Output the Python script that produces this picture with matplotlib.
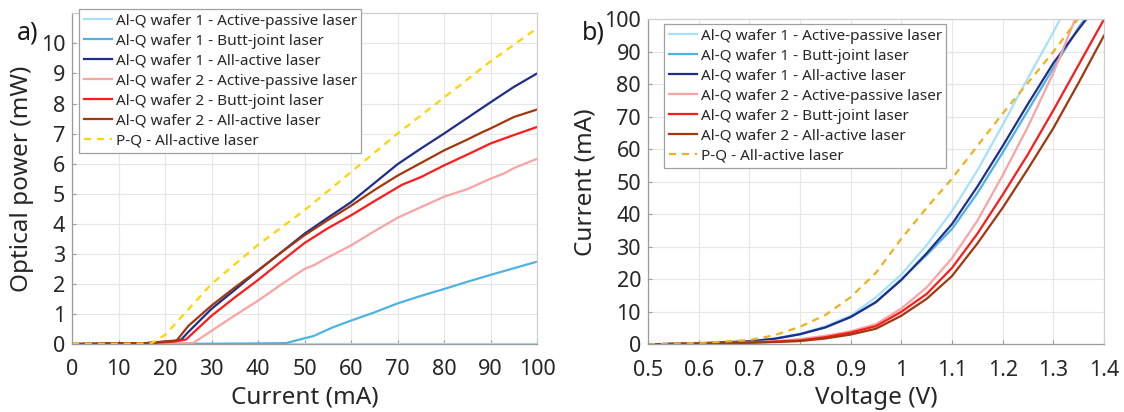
import matplotlib
matplotlib.use("Agg")
import matplotlib.pyplot as plt
from matplotlib.ticker import FixedLocator

plt.rcParams["font.family"] = ["Noto Sans", "DejaVu Sans"]

# ---- panel a) optical power vs current ----
labels = [
    "Al-Q wafer 1 - Active-passive laser",
    "Al-Q wafer 1 - Butt-joint laser",
    "Al-Q wafer 1 - All-active laser",
    "Al-Q wafer 2 - Active-passive laser",
    "Al-Q wafer 2 - Butt-joint laser",
    "Al-Q wafer 2 - All-active laser",
    "P-Q - All-active laser",
]

li_ap1_x = [0, 20, 40, 60, 80, 100]
li_ap1_y = [0, 0, 0, 0, 0, 0]

li_bj1_x = [0, 10, 20, 30, 40, 46, 52, 56, 60, 65, 70, 75, 80, 85, 90, 95, 100]
li_bj1_y = [0, 0, 0, 0.01, 0.02, 0.03, 0.27, 0.55, 0.78, 1.05, 1.35, 1.6, 1.83, 2.07, 2.3, 2.52, 2.74]

li_aa1_x = [0, 10, 16, 22, 23.5, 25, 30, 35, 40, 45, 50, 55, 60, 65, 70, 75, 80, 85, 90, 95, 100]
li_aa1_y = [0, 0.02, 0.03, 0.1, 0.15, 0.4, 1.17, 1.8, 2.44, 3.05, 3.67, 4.2, 4.72, 5.35, 5.98, 6.5,
            7.0, 7.52, 8.04, 8.55, 9.0]

li_ap2_x = [0, 10, 20, 26, 30, 35, 40, 45, 50, 52, 55, 60, 65, 70, 75, 80, 85, 90, 93, 95, 100]
li_ap2_y = [0, 0, 0.01, 0.03, 0.44, 0.95, 1.44, 1.98, 2.5, 2.62, 2.88, 3.28, 3.75, 4.2, 4.55, 4.9,
            5.15, 5.5, 5.68, 5.85, 6.16]

li_bj2_x = [0, 10, 16, 22, 24.5, 30, 35, 40, 45, 50, 55, 60, 65, 71, 75, 80, 85, 90, 95, 100]
li_bj2_y = [0, 0.01, 0.02, 0.08, 0.15, 0.94, 1.55, 2.13, 2.75, 3.36, 3.85, 4.28, 4.75, 5.3, 5.55,
            5.94, 6.3, 6.67, 6.95, 7.22]

li_aa2_x = [0, 10, 16, 22.5, 25, 30, 35, 40, 45, 50, 55, 60, 65, 70, 75, 80, 85, 88, 90, 95, 100]
li_aa2_y = [0, 0.02, 0.03, 0.12, 0.6, 1.28, 1.88, 2.45, 3.05, 3.62, 4.12, 4.6, 5.12, 5.6, 6.02,
            6.44, 6.8, 7.03, 7.17, 7.55, 7.8]

li_pq_x = [0, 10, 17, 20, 25, 30, 40, 50, 60, 70, 80, 90, 100]
li_pq_y = [0, 0.01, 0.02, 0.3, 1.15, 2.0, 3.3, 4.45, 5.72, 7.0, 8.2, 9.4, 10.5]

# ---- panel b) current vs voltage ----
iv_ap1_v = [0.5, 0.6, 0.7, 0.75, 0.8, 0.85, 0.9, 0.95, 1.0, 1.05, 1.1, 1.15, 1.2, 1.25, 1.3, 1.313]
iv_ap1_i = [0, 0.3, 1.0, 1.8, 3.3, 5.5, 8.8, 14.5, 21.5, 30.5, 41, 53.5, 67.5, 82, 96, 100]

iv_bj1_v = [0.5, 0.6, 0.7, 0.75, 0.8, 0.85, 0.9, 0.95, 1.0, 1.05, 1.1, 1.15, 1.2, 1.25, 1.3, 1.35, 1.362]
iv_bj1_i = [0, 0.3, 0.9, 1.7, 3.1, 5.2, 8.4, 13, 20, 27.5, 35.5, 46.5, 59, 72, 85, 97.5, 100]

iv_aa1_v = [0.5, 0.6, 0.7, 0.75, 0.8, 0.85, 0.9, 0.95, 1.0, 1.05, 1.1, 1.15, 1.2, 1.25, 1.3, 1.35, 1.365]
iv_aa1_i = [0, 0.3, 0.9, 1.7, 3.1, 5.2, 8.4, 13, 19.8, 28, 37, 48.5, 61, 74, 86.5, 97, 100]

iv_ap2_v = [0.5, 0.6, 0.7, 0.75, 0.8, 0.85, 0.9, 0.95, 1.0, 1.05, 1.1, 1.15, 1.2, 1.25, 1.3, 1.343]
iv_ap2_i = [0, 0.2, 0.6, 1.0, 1.6, 2.6, 4.0, 6.2, 11, 17.5, 26.5, 38, 52, 67, 83.5, 100]

iv_bj2_v = [0.5, 0.6, 0.7, 0.75, 0.8, 0.85, 0.9, 0.95, 1.0, 1.05, 1.1, 1.15, 1.2, 1.25, 1.3, 1.35, 1.4]
iv_bj2_i = [0, 0.2, 0.5, 0.8, 1.2, 2.2, 3.6, 5.6, 10, 15.5, 23.5, 34, 46, 58.5, 72, 86, 100]

iv_aa2_v = [0.5, 0.6, 0.7, 0.75, 0.8, 0.85, 0.9, 0.95, 1.0, 1.05, 1.1, 1.15, 1.2, 1.25, 1.3, 1.35, 1.4]
iv_aa2_i = [0, 0.2, 0.5, 0.7, 1.0, 1.8, 3.0, 4.8, 8.8, 14, 21, 31, 42, 54, 66.5, 80.5, 95]

iv_pq_v = [0.5, 0.6, 0.7, 0.75, 0.8, 0.85, 0.9, 0.95, 1.0, 1.05, 1.1, 1.15, 1.2, 1.25, 1.3, 1.348]
iv_pq_i = [0, 0.4, 1.3, 2.8, 5.4, 9, 14.5, 22, 32.5, 42, 51, 61, 71, 80.5, 90, 100]

colors = ["#a6e1fa", "#4db3e6", "#1f2d8c", "#f9a3a3", "#ff1a1a", "#a2360c"]
pq_color_a = "#ffd400"
pq_color_b = "#edb120"

fig = plt.figure(figsize=(11.24, 4.12), dpi=100)
ax1 = fig.add_axes([0.0641, 0.165, 0.4137, 0.8027])
ax2 = fig.add_axes([0.5765, 0.1643, 0.4057, 0.7888])

lw = 1.6
li_series = [(li_ap1_x, li_ap1_y), (li_bj1_x, li_bj1_y), (li_aa1_x, li_aa1_y),
             (li_ap2_x, li_ap2_y), (li_bj2_x, li_bj2_y), (li_aa2_x, li_aa2_y)]
for (x, y), c, lab in zip(li_series, colors, labels):
    ax1.plot(x, y, color=c, lw=lw, label=lab)
ax1.plot(li_pq_x, li_pq_y, color=pq_color_a, lw=lw, ls=(0, (3.2, 2.6)), label=labels[6])

iv_series = [(iv_ap1_v, iv_ap1_i), (iv_bj1_v, iv_bj1_i), (iv_aa1_v, iv_aa1_i),
             (iv_ap2_v, iv_ap2_i), (iv_bj2_v, iv_bj2_i), (iv_aa2_v, iv_aa2_i)]
for (x, y), c, lab in zip(iv_series, colors, labels):
    ax2.plot(x, y, color=c, lw=lw, label=lab)
ax2.plot(iv_pq_v, iv_pq_i, color=pq_color_b, lw=lw, ls=(0, (3.2, 2.6)), label=labels[6])


def style_axes(ax):
    ax.grid(True, color="#e6e6e6", lw=0.8)
    ax.set_axisbelow(True)
    for side in ("left", "bottom"):
        ax.spines[side].set_color("#9a9a9a")
    for side in ("top", "right"):
        ax.spines[side].set_color("#cfcfcf")
    for s in ax.spines.values():
        s.set_linewidth(0.9)
    ax.tick_params(direction="in", length=3, width=0.8, color="#9a9a9a",
                   labelsize=15.5, labelcolor="#262626")
    ax.tick_params(axis="y", pad=5)
    ax.tick_params(axis="x", pad=11)


ax1.set_xlim(0, 100)
ax1.set_ylim(0, 11)
ax1.xaxis.set_major_locator(FixedLocator(range(0, 101, 10)))
ax1.yaxis.set_major_locator(FixedLocator(range(0, 11)))
style_axes(ax1)
ax1.set_xlabel("Current (mA)", fontsize=17.5, color="#262626", labelpad=4)
ax1.set_ylabel("Optical power (mW)", fontsize=17.5, color="#262626", labelpad=5)

vt = [0.5, 0.6, 0.7, 0.8, 0.9, 1.0, 1.1, 1.2, 1.3, 1.4]
ax2.set_xlim(0.5, 1.4)
ax2.set_ylim(0, 100)
ax2.set_xticks(vt)
ax2.set_xticklabels(["0.5", "0.6", "0.7", "0.8", "0.9", "1", "1.1", "1.2", "1.3", "1.4"])
ax2.yaxis.set_major_locator(FixedLocator(range(0, 101, 10)))
style_axes(ax2)
ax2.set_xlabel("Voltage (V)", fontsize=17.5, color="#262626", labelpad=4)
ax2.set_ylabel("Current (mA)", fontsize=17.5, color="#262626", labelpad=5)

leg_kw = dict(loc="upper left", bbox_transform=fig.transFigure, borderaxespad=0,
              fontsize=11, handlelength=1.85, handletextpad=0.25, labelspacing=0.33,
              borderpad=0.3, fancybox=False, framealpha=1, edgecolor="#a0a0a0")
l1 = ax1.legend(bbox_to_anchor=(79 / 1124, 1 - 9 / 412), **leg_kw)
l2 = ax2.legend(bbox_to_anchor=(664 / 1124, 1 - 24 / 412), **leg_kw)
for lg in (l1, l2):
    lg.get_frame().set_linewidth(0.9)
    for t in lg.get_texts():
        t.set_color("#262626")

fig.text(17 / 1124, 1 - 40 / 412, "a)", fontsize=18, color="#1a1a1a")
fig.text(582 / 1124, 1 - 40 / 412, "b)", fontsize=18, color="#1a1a1a")

fig.savefig("out.png", dpi=100)
plt.close(fig)
